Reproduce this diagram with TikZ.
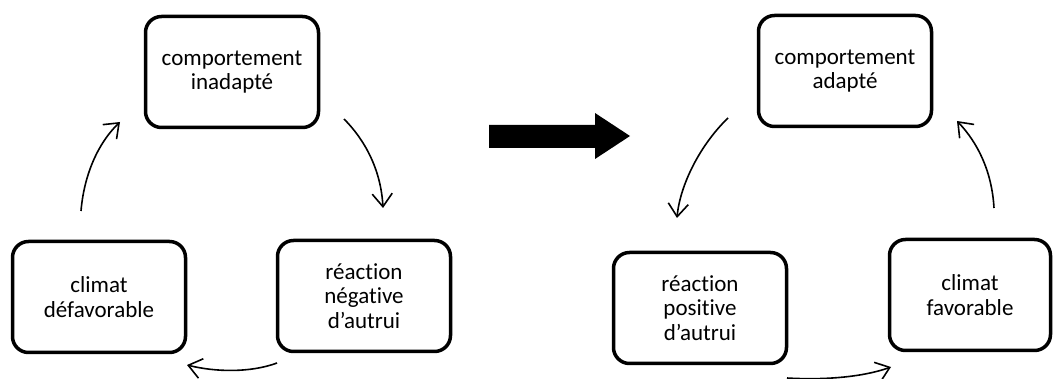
\documentclass[tikz,border=0pt]{standalone}
\usepackage{fontspec}
\setmainfont{Carlito}[Ligatures=NoCommon]
\usetikzlibrary{arrows.meta}
\begin{document}
\begin{tikzpicture}[x=1pt,y=-1pt,
  box/.style={draw=black, line width=3.5pt, rounded corners=16pt, align=center,
    minimum width=173pt, minimum height=111pt, inner sep=0pt,
    font=\fontsize{23pt}{24.5pt}\selectfont},
  cyc/.style={line width=1.6pt, -{Straight Barb[length=13pt,width=20pt,line width=1.6pt]}}]
\useasboundingbox (0,0) rectangle (1053,379);
% left cycle
\node[box] (A) at (232,72) {comportement\\inadapté};
\node[box] (B) at (364,296) {réaction\\négative\\d’autrui};
\node[box] (C) at (99,297) {climat\\défavorable};
% right cycle
\node[box] (D) at (845,71) {comportement\\adapté};
\node[box] (E) at (700,308) {réaction\\positive\\d’autrui};
\node[box, minimum width=161pt] (F) at (970,295) {climat\\favorable};
% free ends of the curved arrows
\coordinate (a1) at (344,119);
\coordinate (a2) at (383,208);
\coordinate (b1) at (277,363);
\coordinate (b2) at (187,365);
\coordinate (c1) at (81,211);
\coordinate (c2) at (120,122);
\coordinate (d1) at (728,118);
\coordinate (d2) at (677,218);
\coordinate (e1) at (787,378);
\coordinate (e2) at (891,367);
\coordinate (f1) at (994,208);
\coordinate (f2) at (957,121);
\draw[cyc] (a1) .. controls (365,140) and (381,170) .. (a2);
\draw[cyc] (b1) .. controls (250,373) and (215,372) .. (b2);
\draw[cyc] (c1) .. controls (84,175) and (98,143) .. (c2);
\draw[cyc] (d1) .. controls (700,145) and (680,185) .. (d2);
\draw[cyc] (e1) .. controls (820,380) and (860,378) .. (e2);
\draw[cyc] (f1) .. controls (992,172) and (978,143) .. (f2);
% big transition arrow
\fill (489,125) -- (595,125) -- (595,113) -- (630,136) -- (595,159) -- (595,148) -- (489,148) -- cycle;
\end{tikzpicture}
\end{document}
